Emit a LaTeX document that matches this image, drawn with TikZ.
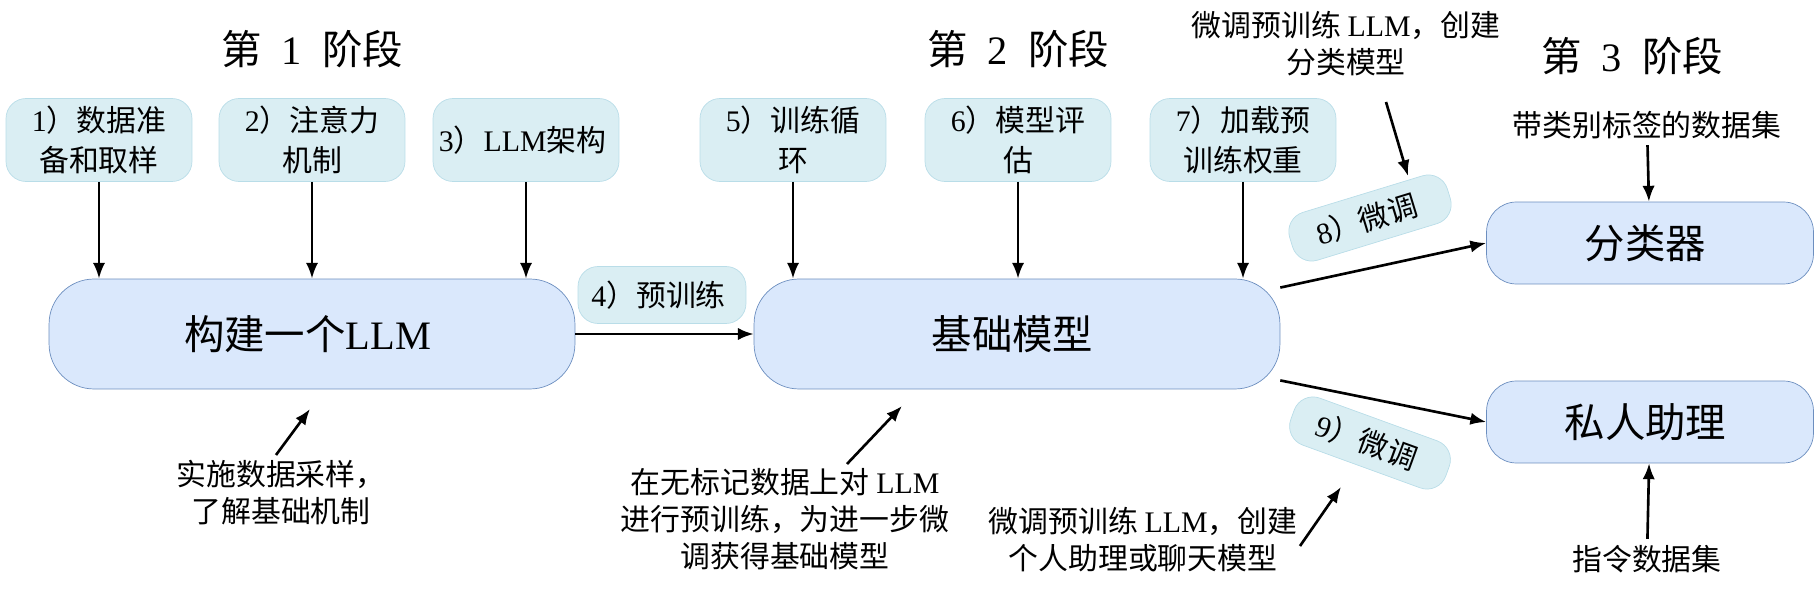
\documentclass[tikz,border=0pt]{standalone}
\usepackage{fontspec}
\setmainfont{Liberation Serif}
\newfontfamily\cjk{Noto Sans CJK SC}
\usetikzlibrary{arrows.meta}
\definecolor{bigfill}{HTML}{DAE8FC}
\definecolor{bigline}{HTML}{6C8EBF}
\definecolor{stepfill}{HTML}{DAEEF3}
\definecolor{stepline}{HTML}{B9DDE8}
\newcommand{\latn}[1]{{\rmfamily #1}}

\begin{document}
\begin{tikzpicture}[x=0.02cm, y=-0.02cm,
    stepbox/.style={draw=stepline, fill=stepfill, rounded corners=0.4cm, align=center,
        minimum width=3.72cm, minimum height=1.66cm, font=\cjk\fontsize{17}{23}\selectfont},
    bigbox/.style={draw=bigline, fill=bigfill, rounded corners=0.9cm, align=center,
        minimum width=10.52cm, minimum height=2.2cm, font=\cjk\fontsize{23}{28}\selectfont},
    endbox/.style={draw=bigline, fill=bigfill, rounded corners=0.6cm, align=center,
        minimum width=6.54cm, minimum height=1.64cm, font=\cjk\fontsize{23}{28}\selectfont},
    note/.style={align=center, font=\cjk\fontsize{17}{21}\selectfont},
    stage/.style={font=\cjk\fontsize{23}{28}\selectfont},
    flow/.style={-{Latex[length=9pt, width=7pt]}, line width=1.5pt}]
    \useasboundingbox (0,0) rectangle (1820,594);

        % stage titles
        \node[stage] (StageOne) at (312,49) {第\hspace{0.5em}\latn{1}\hspace{0.5em}阶段};
        \node[stage] (StageTwo) at (1018,49) {第\hspace{0.5em}\latn{2}\hspace{0.5em}阶段};
        \node[stage] (StageThree) at (1632,56) {第\hspace{0.5em}\latn{3}\hspace{0.5em}阶段};

        % stage 1
        \node[stepbox] (Sampling) at (99,140) {
            \latn{1}）数据准\\备和取样
        };
        \node[stepbox] (Attention) at (312,140) {
            \latn{2}）注意力\\机制
        };
        \node[stepbox] (Architecture) at (526,140) {
            \latn{3}）\latn{LLM}架构
        };
        \node[bigbox] (Build) at (312,334) {
            构建一个\latn{LLM}
        };
        \node[stepbox, minimum width=3.36cm, minimum height=1.14cm] (Pretrain) at (662,295) {
            \latn{4}）预训练
        };

        % stage 2
        \node[stepbox] (Loop) at (793,140) {
            \latn{5}）训练循\\环
        };
        \node[stepbox] (Evaluate) at (1018,140) {
            \latn{6}）模型评\\估
        };
        \node[stepbox] (Weights) at (1243,140) {
            \latn{7}）加载预\\训练权重
        };
        \node[bigbox] (Base) at (1017,334) {
            基础模型
        };

        % stage 3
        \node[stepbox, minimum width=3.3cm, minimum height=1cm, rotate=17] (TuneCls) at (1370,218) {
            \latn{8}）微调
        };
        \node[stepbox, minimum width=3.3cm, minimum height=1cm, rotate=-20] (TuneChat) at (1370,443) {
            \latn{9}）微调
        };
        \node[endbox] (Classifier) at (1650,243) {
            分类器
        };
        \node[endbox] (Assistant) at (1650,422) {
            私人助理
        };

        % notes
        \node[note] (LabelData) at (1647,125) {带类别标签的数据集};
        \node[note] (InstrData) at (1647,559) {指令数据集};
        \node[note] (ClsNote) at (1346,44) {
            微调预训练 \latn{LLM}，创建\\分类模型
        };
        \node[note] (ChatNote) at (1143,540) {
            微调预训练 \latn{LLM}，创建\\个人助理或聊天模型
        };
        \node[note] (SampleNote) at (281,493) {
            实施数据采样，\\了解基础机制
        };
        \node[note] (BaseNote) at (785,519) {
            在无标记数据上对 \latn{LLM}\\进行预训练，为进一步微\\调获得基础模型
        };

        \coordinate (SampleTip) at (310,409);
        \coordinate (SampleFrom) at (276,455);
        \coordinate (BaseTip) at (902,406);
        \coordinate (BaseFrom) at (847,464);
        \coordinate (ClsFrom) at (1386,102);
        \coordinate (ClsTip) at (1408,176);
        \coordinate (ChatFrom) at (1300,546);
        \coordinate (ChatTip) at (1341,487);

        \draw[flow] (Sampling) to (Sampling |- Build.north);
        \draw[flow] (Attention) to (Attention |- Build.north);
        \draw[flow] (Architecture) to (Architecture |- Build.north);
        \draw[flow] (Build) to (Base);
        \draw[flow] (Loop) to (Loop |- Base.north);
        \draw[flow] (Evaluate) to (Evaluate |- Base.north);
        \draw[flow] (Weights) to (Weights |- Base.north);
        \draw[flow] (Base.10) to (Classifier.west);
        \draw[flow] (Base.-10) to (Assistant.west);
        \draw[flow] (LabelData) to (Classifier);
        \draw[flow] (InstrData) to (Assistant);
        \draw[flow] (SampleFrom) to (SampleTip);
        \draw[flow] (BaseFrom) to (BaseTip);
        \draw[flow] (ClsFrom) to (ClsTip);
        \draw[flow] (ChatFrom) to (ChatTip);
    \end{tikzpicture}
\end{document}
